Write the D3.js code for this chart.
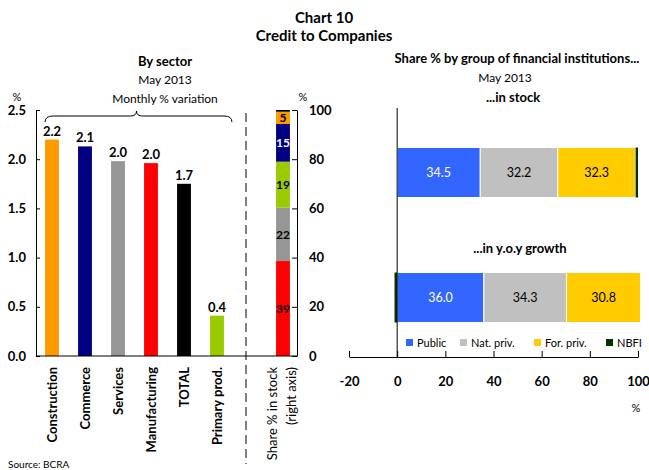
<!DOCTYPE html>
<meta charset="utf-8">
<head>
    <title>Chart 10 - Credit to Companies</title>
</head>
<style>
    body { margin: 0; background: #fff; }
    svg { font-family: Lato, "Open Sans", sans-serif; }
</style>
<script src="https://cdn.jsdelivr.net/npm/d3@7"></script>
<body>
    <div id="chart"></div>
</body>
<script>

    // left panel data: monthly % variation by sector
    var sectors = ["Construction", "Commerce", "Services", "Manufacturing", "TOTAL", "Primary prod."];
    var sectorValues = [2.2, 2.13, 1.98, 1.96, 1.75, 0.41];
    var sectorLabels = ["2.2", "2.1", "2.0", "2.0", "1.7", "0.4"];
    var sectorColors = ["#ff9900", "#000080", "#969696", "#ff0000", "#000000", "#99cc00"];

    // stacked column: share % in stock (right axis), bottom to top
    var stockShares = [38.6, 21.7, 18.7, 15.3, 5.0, 0.7];
    var stockLabels = ["39", "22", "19", "15", "5", ""];
    var stockColors = ["#ff0000", "#969696", "#99cc00", "#000080", "#ff9900", "#000000"];
    var stockTextColors = ["#000", "#000", "#000", "#fff", "#000", "#000"];

    // right panel data: share % by group of financial institutions
    var groups = ["Public", "Nat. priv.", "For. priv.", "NBFI"];
    var groupColors = ["#3366ff", "#c0c0c0", "#ffcc00", "#003300"];
    var rowNames = ["...in stock", "...in y.o.y growth"];
    var inStock = [34.5, 32.2, 32.3, 1.0];
    var inGrowth = [36.0, 34.3, 30.8, -1.1];
    var rightTicks = [-20, 0, 20, 40, 60, 80, 100];

    var width = 649, height = 470;

    var svg = d3.select("#chart")
        .append("svg")
        .attr("width", width)
        .attr("height", height);

    // titles
    svg.append("text").attr("x", 324).attr("y", 23).attr("text-anchor", "middle")
        .style("font-size", "15px").style("font-weight", "bold").text("Chart 10");
    svg.append("text").attr("x", 324).attr("y", 41).attr("text-anchor", "middle")
        .style("font-size", "15px").style("font-weight", "bold").text("Credit to Companies");

    // ---------- left panel ----------
    var y = d3.scaleLinear().domain([0, 2.5]).range([356, 110]);
    var y2 = d3.scaleLinear().domain([0, 100]).range([356, 110]);

    var x = d3.scaleBand()
        .domain(sectors.concat(["gap", "stock"]))
        .range([35.5, 299.5])
        .paddingInner(0.58)
        .paddingOuter(0.29);

    svg.append("text").attr("x", 165).attr("y", 66).attr("text-anchor", "middle")
        .style("font-size", "13px").style("font-weight", "bold").text("By sector");
    svg.append("text").attr("x", 165).attr("y", 84).attr("text-anchor", "middle")
        .style("font-size", "12px").text("May 2013");
    svg.append("text").attr("x", 165).attr("y", 103).attr("text-anchor", "middle")
        .style("font-size", "12px").text("Monthly % variation");
    svg.append("text").attr("x", 17).attr("y", 101).attr("text-anchor", "middle")
        .style("font-size", "11px").text("%");
    svg.append("text").attr("x", 303).attr("y", 101).attr("text-anchor", "middle")
        .style("font-size", "11px").text("%");

    // curly brace over the sector bars
    var bx0 = x(sectors[0]), bx1 = x(sectors[sectors.length - 1]) + x.bandwidth() + 8;
    var bm = (bx0 + bx1) / 2 - 2;
    svg.append("path")
        .attr("d", "M" + bx0 + ",122 Q" + bx0 + ",116 " + (bx0 + 8) + ",116 L" + (bm - 6) + ",116 Q" + bm + ",116 " + bm + ",111"
            + " Q" + bm + ",116 " + (bm + 6) + ",116 L" + (bx1 - 8) + ",116 Q" + bx1 + ",116 " + bx1 + ",122")
        .attr("fill", "none").attr("stroke", "#000").attr("stroke-width", 1);

    svg.selectAll(".sbar")
        .data(sectorValues)
        .enter().append("rect")
        .attr("x", function (d, i) { return x(sectors[i]); })
        .attr("y", function (d) { return y(d); })
        .attr("width", x.bandwidth())
        .attr("height", function (d) { return y(0) - y(d); })
        .attr("fill", function (d, i) { return sectorColors[i]; });

    svg.selectAll(".slab")
        .data(sectorValues)
        .enter().append("text")
        .attr("x", function (d, i) { return x(sectors[i]) + x.bandwidth() / 2; })
        .attr("y", function (d) { return y(d) - 4; })
        .attr("text-anchor", "middle")
        .style("font-size", "13px").style("font-weight", "bold")
        .text(function (d, i) { return sectorLabels[i]; });

    // stacked column
    var cum = 0;
    var stacks = stockShares.map(function (v, i) {
        var s = { y0: cum, y1: cum + v, i: i };
        cum += v;
        return s;
    });
    svg.selectAll(".stk")
        .data(stacks)
        .enter().append("rect")
        .attr("x", x("stock"))
        .attr("y", function (d) { return y2(d.y1); })
        .attr("width", x.bandwidth())
        .attr("height", function (d) { return y2(d.y0) - y2(d.y1); })
        .attr("fill", function (d) { return stockColors[d.i]; });
    svg.selectAll(".stklab")
        .data(stacks)
        .enter().append("text")
        .attr("x", x("stock") + x.bandwidth() / 2)
        .attr("y", function (d) { return y2((d.y0 + d.y1) / 2); })
        .attr("dy", "0.35em")
        .attr("text-anchor", "middle")
        .attr("fill", function (d) { return stockTextColors[d.i]; })
        .style("font-size", "12px").style("font-weight", "bold")
        .text(function (d) { return stockLabels[d.i]; });

    // axes
    var leftAxis = svg.append("g")
        .attr("transform", "translate(36,0)")
        .call(d3.axisLeft(y).tickValues([0, 0.5, 1, 1.5, 2, 2.5]).tickFormat(d3.format(".1f"))
            .tickSizeInner(-4).tickSizeOuter(0).tickPadding(10));
    var rightAxis = svg.append("g")
        .attr("transform", "translate(297,0)")
        .call(d3.axisRight(y2).tickValues([0, 20, 40, 60, 80, 100])
            .tickSizeInner(-5).tickSizeOuter(0).tickPadding(12));
    [leftAxis, rightAxis].forEach(function (g) {
        g.selectAll("text").style("font-size", "13px").style("font-weight", "bold")
            .style("font-family", "Lato, sans-serif").attr("fill", "#000");
    });
    svg.append("line").attr("x1", 36).attr("x2", 297).attr("y1", y(0)).attr("y2", y(0))
        .attr("stroke", "#000");

    // dashed separator
    var dashX = x("gap") + x.bandwidth() / 2 - 4;
    svg.append("line").attr("x1", dashX).attr("x2", dashX).attr("y1", 113).attr("y2", 464)
        .attr("stroke", "#000").attr("stroke-dasharray", "9,5");

    // category labels
    svg.selectAll(".clab")
        .data(sectors)
        .enter().append("text")
        .attr("transform", function (d) { return "translate(" + (x(d) + x.bandwidth() / 2) + ",367) rotate(-90)"; })
        .attr("dy", "0.35em")
        .attr("text-anchor", "end")
        .style("font-size", "13px").style("font-weight", "bold")
        .text(function (d) { return d; });
    var stockLab = svg.append("text")
        .attr("transform", "translate(" + (x("stock") + x.bandwidth() / 2) + ",367) rotate(-90)")
        .attr("text-anchor", "end")
        .style("font-size", "13px");
    stockLab.append("tspan").attr("x", 0).attr("dy", "-0.45em").text("Share % in stock");
    stockLab.append("tspan").attr("x", 0).attr("dy", "1.45em").text("(right axis)");

    svg.append("text").attr("x", 8).attr("y", 468)
        .style("font-size", "10px").text("Source: BCRA");

    // ---------- right panel ----------
    var xr = d3.scaleLinear().domain([-20, 100]).range([349, 638]);
    var yr = d3.scaleBand().domain(rowNames).range([110, 360]).paddingInner(0.6).paddingOuter(0.3);

    svg.append("text").attr("x", 517).attr("y", 63).attr("text-anchor", "middle")
        .style("font-size", "13px").style("font-weight", "bold")
        .text("Share % by group of financial institutions...");
    svg.append("text").attr("x", 505).attr("y", 82).attr("text-anchor", "middle")
        .style("font-size", "12px").text("May 2013");

    svg.selectAll(".rowtitle")
        .data(rowNames)
        .enter().append("text")
        .attr("x", function (d, i) { return i === 0 ? 513 : 520; })
        .attr("y", function (d) { return yr(d) - 46 + (d === rowNames[0] ? 0 : 26); })
        .attr("text-anchor", "middle")
        .style("font-size", "13px").style("font-weight", "bold")
        .text(function (d) { return d; });

    function stackRow(vals, row) {
        var pos = 0;
        return vals.map(function (v, i) {
            var s;
            if (v >= 0) { s = { x0: pos, x1: pos + v }; pos += v; }
            else { s = { x0: v, x1: 0 }; }
            s.i = i; s.v = v; s.row = row;
            return s;
        });
    }
    var segs = stackRow(inStock, rowNames[0]).concat(stackRow(inGrowth, rowNames[1]));

    svg.selectAll(".hseg")
        .data(segs)
        .enter().append("rect")
        .attr("x", function (d) { return xr(d.x0); })
        .attr("y", function (d) { return yr(d.row); })
        .attr("width", function (d) { return xr(d.x1) - xr(d.x0); })
        .attr("height", yr.bandwidth())
        .attr("fill", function (d) { return groupColors[d.i]; })
        .attr("stroke", function (d) { return d.i < 3 ? "#fff" : "none"; })
        .attr("stroke-width", 1);

    svg.selectAll(".hlab")
        .data(segs.filter(function (d) { return d.i < 3; }))
        .enter().append("text")
        .attr("x", function (d) { return xr((d.x0 + d.x1) / 2); })
        .attr("y", function (d) { return yr(d.row) + yr.bandwidth() / 2; })
        .attr("dy", "0.35em")
        .attr("text-anchor", "middle")
        .attr("fill", function (d) { return d.i === 0 ? "#fff" : "#000"; })
        .style("font-size", "12.5px")
        .text(function (d) { return d.v.toFixed(1); });

    // vertical zero line
    svg.append("line").attr("x1", xr(0)).attr("x2", xr(0)).attr("y1", 108).attr("y2", 357)
        .attr("stroke", "#000");

    var xAxisR = svg.append("g")
        .attr("transform", "translate(0,357)")
        .call(d3.axisBottom(xr).tickValues(rightTicks)
            .tickFormat(function (d) { return String(d); })
            .tickSizeInner(-6).tickSizeOuter(0).tickPadding(20));
    xAxisR.selectAll("text").style("font-size", "13px").style("font-weight", "bold")
        .style("font-family", "Lato, sans-serif").attr("fill", "#000");
    svg.append("text").attr("x", 636).attr("y", 412).attr("text-anchor", "middle")
        .style("font-size", "11px").text("%");

    // legend
    var legendX = [406, 460, 534, 606];
    var legend = svg.selectAll(".leg")
        .data(groups)
        .enter().append("g")
        .attr("transform", function (d, i) { return "translate(" + legendX[i] + ",339)"; });
    legend.append("rect").attr("width", 7).attr("height", 7)
        .attr("fill", function (d, i) { return groupColors[i]; });
    legend.append("text").attr("x", 11).attr("y", 4).attr("dy", "0.35em")
        .style("font-size", "11px").text(function (d) { return d; });

</script>
